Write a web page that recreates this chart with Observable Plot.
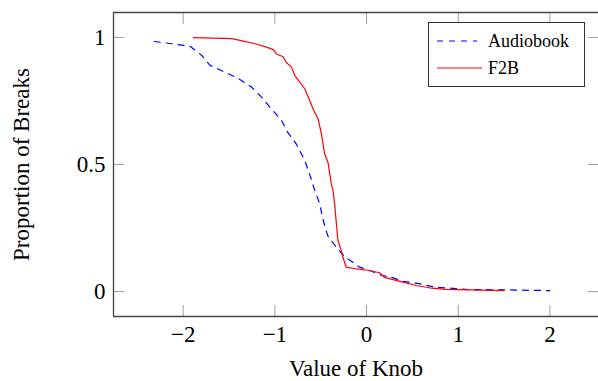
<!DOCTYPE html>
<html><head><meta charset="utf-8">
<script src="https://cdn.jsdelivr.net/npm/d3@7"></script>
<script src="https://cdn.jsdelivr.net/npm/@observablehq/plot@0.6"></script>
<style>
html,body{margin:0;padding:0;background:#fff;}
#wrap{position:relative;width:598px;height:381px;overflow:hidden;}
#legend{position:absolute;left:428px;top:22px;width:155px;height:63px;border:1px solid #333;background:#fff;font-family:"Liberation Serif","Times New Roman",Times,serif;font-size:18px;color:#000;}
#legend .row{position:absolute;left:0;height:24px;display:flex;align-items:center;}
#legend svg{display:block;margin-left:8px;margin-right:5px;}
</style>
</head><body>
<div id="wrap"><div id="legend"></div></div>
<script>
const audioX = [-2.315,-2.123,-1.924,-1.797,-1.707,-1.543,-1.402,-1.253,-1.145,-1.033,-0.927,-0.859,-0.764,-0.674,-0.620,-0.565,-0.511,-0.478,-0.424,-0.329,-0.261,-0.207,-0.076,0.033,0.174,0.25,0.391,0.576,0.758,0.935,1.12,1.478,1.77,2.0];
const audioY = [0.984,0.975,0.965,0.929,0.890,0.863,0.839,0.804,0.765,0.717,0.673,0.626,0.579,0.516,0.461,0.398,0.346,0.287,0.220,0.174,0.146,0.130,0.096,0.083,0.063,0.059,0.041,0.031,0.017,0.013,0.008,0.007,0.005,0.004];
const f2bX = [-1.888,-1.471,-1.380,-1.217,-1.090,-1.018,-0.982,-0.910,-0.873,-0.818,-0.783,-0.728,-0.674,-0.620,-0.584,-0.529,-0.492,-0.457,-0.421,-0.384,-0.366,-0.348,-0.329,-0.312,-0.275,-0.258,-0.221,-0.112,0.033,0.141,0.196,0.395,0.540,0.685,0.866,1.12,1.5];
const f2bY = [0.999,0.995,0.988,0.975,0.962,0.952,0.935,0.924,0.900,0.883,0.850,0.824,0.798,0.752,0.719,0.680,0.621,0.542,0.509,0.424,0.398,0.345,0.267,0.201,0.161,0.135,0.096,0.089,0.083,0.074,0.056,0.037,0.024,0.015,0.009,0.007,0.004];
const seriesNames = ["Audiobook", "F2B"];
const xTicks = [-2, -1, 0, 1, 2];
const yTicks = [0, 0.5, 1];
const yTickLabels = ["0", "0.5", "1"];
const xDomain = [-2.76, 2.53];
const yDomain = [-0.098, 1.098];
const xTitle = "Value of Knob";
const yTitle = "Proportion of Breaks";

const audio = audioX.map((x, i) => ({x, y: audioY[i]}));
const f2b = f2bX.map((x, i) => ({x, y: f2bY[i]}));
const blue = "#0000ff", red = "#ff0000";
const tickColor = "#a0a0a0", frameColor = "#444";
const serif = '"Liberation Serif", "Times New Roman", Times, serif';

const chart = Plot.plot({
  width: 598, height: 381,
  marginLeft: 113, marginRight: 0, marginTop: 12, marginBottom: 65,
  style: {fontFamily: serif, fontSize: "23px", background: "white", color: "black"},
  x: {domain: xDomain},
  y: {domain: yDomain},
  marks: [
    Plot.axisX(xTicks, {anchor: "bottom", tickSize: -11, stroke: tickColor, tickFormat: () => "", label: null}),
    Plot.axisX(xTicks, {anchor: "top", tickSize: -11, stroke: tickColor, tickFormat: () => "", label: null}),
    Plot.axisY(yTicks, {anchor: "left", tickSize: -11, stroke: tickColor, tickFormat: () => "", label: null}),
    Plot.axisY(yTicks, {anchor: "right", tickSize: -11, stroke: tickColor, tickFormat: () => "", label: null}),
    Plot.axisX(xTicks, {anchor: "bottom", tickSize: 0, tickPadding: 9, fontFamily: serif, tickFormat: d => d < 0 ? "\u2212" + Math.abs(d) : String(d), label: null}),
    Plot.axisY(yTicks, {anchor: "left", tickSize: 0, tickPadding: 8, fontFamily: serif, tickFormat: d => yTickLabels[yTicks.indexOf(d)], label: null}),
    Plot.ruleX([xDomain[0]], {stroke: frameColor, strokeWidth: 1.3}),
    Plot.ruleY(yDomain, {stroke: frameColor, strokeWidth: 1.3}),
    Plot.line(audio, {x: "x", y: "y", stroke: blue, strokeWidth: 1.2, strokeDasharray: "6,6"}),
    Plot.line(f2b, {x: "x", y: "y", stroke: red, strokeWidth: 1.2}),
    Plot.text([xTitle], {frameAnchor: "bottom", dy: 59, text: d => d, fontSize: 23, fontFamily: serif}),
    Plot.text([yTitle], {frameAnchor: "left", dx: -92, rotate: -90, textAnchor: "middle", text: d => d, fontSize: 23, fontFamily: serif})
  ]
});
document.getElementById("wrap").prepend(chart);

const legend = document.getElementById("legend");
const styles = [{stroke: blue, dash: "6,6", len: 40}, {stroke: red, dash: null, len: 45}];
seriesNames.forEach((name, i) => {
  const row = document.createElement("div");
  row.className = "row";
  row.style.top = (6 + i * 27) + "px";
  const s = styles[i];
  const svg = d3.create("svg").attr("width", 46).attr("height", 10);
  svg.append("line").attr("x1", 0).attr("x2", s.len).attr("y1", 5).attr("y2", 5)
    .attr("stroke", s.stroke).attr("stroke-width", 1.2).attr("stroke-dasharray", s.dash);
  row.append(svg.node());
  const span = document.createElement("span");
  span.textContent = name;
  row.append(span);
  legend.append(row);
});
</script>
</body></html>
